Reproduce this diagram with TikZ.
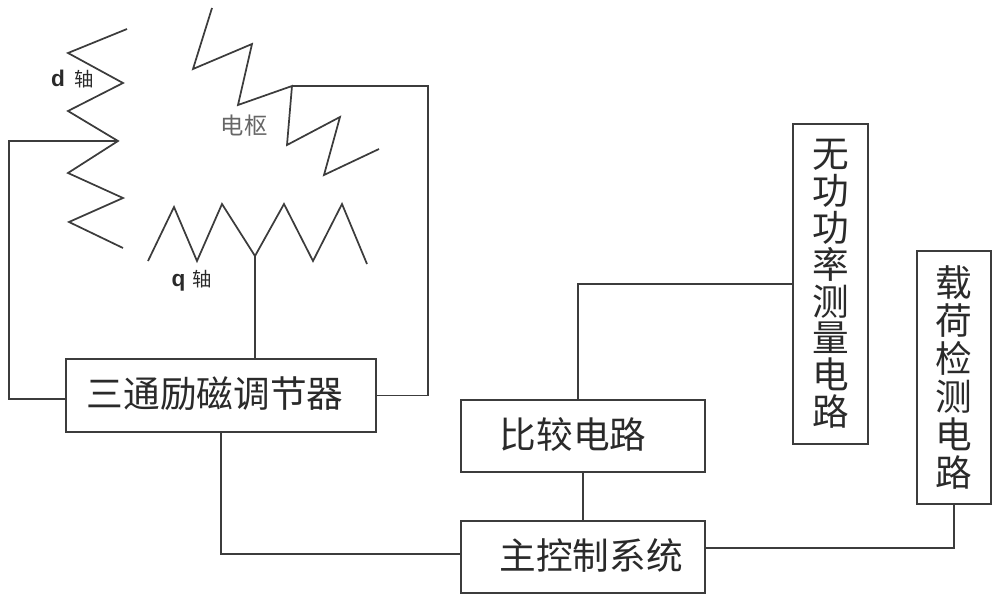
\documentclass[tikz,border=0pt]{standalone}
\usepackage{fontspec}
\setmainfont{Noto Sans CJK SC}
\newfontfamily\latinfont{Liberation Sans}
\usepackage{xcolor}
\usetikzlibrary{positioning, calc}
\definecolor{trait}{HTML}{3C3C3C}
\definecolor{texte}{HTML}{2A2A2A}
\definecolor{grisclair}{HTML}{666666}
\tikzset{
  bloc/.style={rectangle, draw=trait, fill=white, text=texte, line width=1.3pt,
    font=\fontsize{27.5pt}{27.6pt}\selectfont, align=center, inner sep=0, outer sep=0},
  blocplat/.style={bloc, minimum width=183pt, minimum height=54pt, text height=24pt, text depth=6pt},
  bloctour/.style={bloc, minimum width=56pt},
  lien/.style={draw=trait, line width=1.3pt},
  bobine/.style={draw=trait, line width=1.3pt},
  etiquette/.style={font=\fontsize{14.5pt}{16pt}\selectfont, text=texte, inner sep=0}
}
\begin{document}
\begin{tikzpicture}[x=0.75pt, y=-0.75pt]
    \useasboundingbox (0,0) rectangle (1000,603);

    \node[blocplat, minimum width=232.5pt, minimum height=55pt] (regul) at (221,395.5) {三通励磁调节器\hspace{9pt}};
    \node[blocplat] (princ) at (583,557) {\hspace{12pt}主控制系统};
    \node[blocplat, above=36.75pt of princ] (compar) {比较电路\hspace{15pt}};
    \node[bloctour, minimum height=240pt] (reactif) at (830.5,284)
      {无\\功\\功\\率\\测\\量\\电\\路};
    \node[bloctour, minimum height=190pt, font=\fontsize{27.5pt}{28.5pt}\selectfont] (charge) at (954,377.5)
      {载\\荷\\检\\测\\电\\路};

    % les trois enroulements
    \draw[bobine] (127,29) -- (68,53) -- (123,83) -- (68,111) -- (118,141) coordinate (tapd)
      -- (68,173) -- (123,198) -- (69,222) -- (123,248);
    \draw[bobine] (212,8) -- (193,69) -- (252,44) -- (238,105) -- (292,86) coordinate (tapa)
      -- (287,145) -- (340,117) -- (324,175) -- (379,149);
    \draw[bobine] (148,261) -- (174,207) -- (197,261) -- (222,204) -- (255,256) coordinate (tapq)
      -- (284,204) -- (313,261) -- (342,204) -- (367,264);

    \node[etiquette] (axed) at (72.5,79) {{\fontsize{17pt}{18pt}\latinfont\bfseries d}\hspace{7pt}轴};
    \node[etiquette] (axeq) at (192,281) {{\fontsize{17pt}{18pt}\latinfont\bfseries q}\hspace{5.5pt}轴};
    \node[etiquette, text=grisclair, font=\fontsize{17.5pt}{20pt}\selectfont] (induit) at (244,126) {电枢};

    \coordinate (busg) at (9,141);
    \coordinate (busd) at (428,86);

    \draw[lien] (tapd) -- (busg) |- ([yshift=-2.6pt]regul.west);
    \draw[lien] (tapa) -- (busd) |- (regul.east);
    \draw[lien] (tapq) -- (tapq |- regul.north);
    \draw[lien] (regul.south) |- ([yshift=2.5pt]princ.west);
    \draw[lien] (compar.south) -- (princ.north);
    \draw[lien] ([xshift=-3.9pt]compar.north) |- (reactif.west);
    \draw[lien] ([yshift=7pt]princ.east) -| (charge.south);
  \end{tikzpicture}
\end{document}
